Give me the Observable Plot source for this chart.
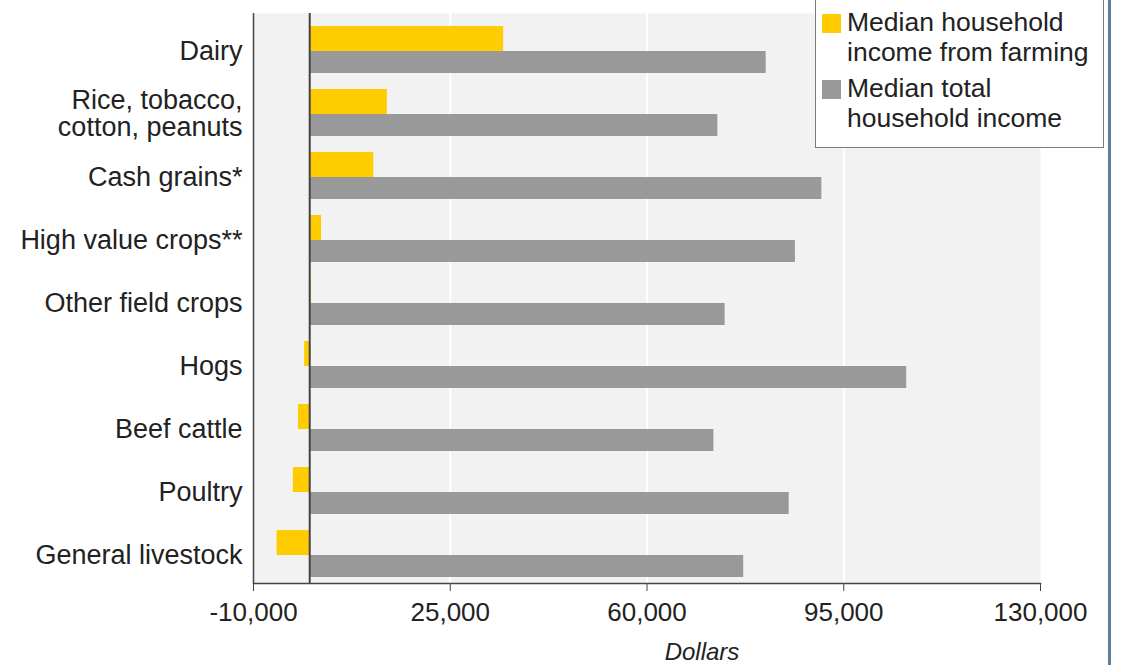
<!DOCTYPE html>
<html>
<head>
<meta charset="utf-8">
<script src="https://cdn.jsdelivr.net/npm/d3@7"></script>
<script src="https://cdn.jsdelivr.net/npm/@observablehq/plot@0.6"></script>
<style>
  html, body { margin: 0; padding: 0; background: #fff; }
  #wrap { position: relative; width: 1124px; height: 665px; overflow: hidden; font-family: "Liberation Sans", Arial, sans-serif; color: #222; }
  #legend { position: absolute; left: 815px; top: -4px; width: 289px; height: 152px; border: 1.5px solid #7a7a7a; background: #fff; box-sizing: border-box; }
  .item { position: absolute; left: 31px; font-size: 26.5px; line-height: 30px; color: #222; white-space: nowrap; }
  .sw { position: absolute; left: 6px; width: 19px; height: 19px; }
  #edge { position: absolute; left: 1108px; top: 0; width: 3px; height: 665px; background: #5e7f9c; }
</style>
</head>
<body>
<div id="wrap"></div>
<script>
const categories = [
  "Dairy",
  "Rice, tobacco,\ncotton, peanuts",
  "Cash grains*",
  "High value crops**",
  "Other field crops",
  "Hogs",
  "Beef cattle",
  "Poultry",
  "General livestock"
];
const farmIncome  = [34500, 13800, 11400, 2100, 300, -900, -2000, -2900, -5800];
const totalIncome = [81200, 72600, 91100, 86400, 73900, 106200, 71900, 85300, 77200];
const seriesNames = ["Median household\nincome from farming", "Median total\nhousehold income"];
const seriesColors = ["#ffcc00", "#999999"];
const xTicks = [-10000, 25000, 60000, 95000, 130000];
const xLabel = "Dollars";

const rows = categories.map((c, i) => ({category: c, farm: farmIncome[i], total: totalIncome[i]}));
const fmt = d => d.toLocaleString("en-US");

const chart = Plot.plot({
  width: 1124,
  height: 665,
  marginLeft: 253,
  marginRight: 84,
  marginTop: 13,
  marginBottom: 82,
  style: {fontFamily: "Liberation Sans, Arial, sans-serif", fontSize: "27px", color: "#222", background: "transparent"},
  x: {domain: [xTicks[0], xTicks[xTicks.length - 1]]},
  y: {domain: categories, padding: 0},
  marks: [
    Plot.frame({fill: "#f2f2f2", stroke: null}),
    Plot.ruleX(xTicks.slice(1, -1), {stroke: "#ffffff", strokeWidth: 2}),
    Plot.barX(rows, {x: "farm", y: "category", fill: seriesColors[0], insetTop: 11, insetBottom: 27}),
    Plot.barX(rows, {x: "total", y: "category", fill: seriesColors[1], insetTop: 36, insetBottom: 5}),
    Plot.ruleX([0], {stroke: "#444", strokeWidth: 2}),
    Plot.ruleX([xTicks[0]], {stroke: "#444", strokeWidth: 1.5}),
    Plot.frame({anchor: "bottom", stroke: "#444", strokeWidth: 1.5}),
    Plot.axisX({ticks: xTicks, tickFormat: fmt, tickSize: 8, tickPadding: 11, stroke: "#444", label: null, fontSize: 26}),
    Plot.axisY({tickSize: 0, tickPadding: 11, label: null, dy: 4, fontSize: 27, lineHeight: 1}),
    Plot.text([xLabel], {frameAnchor: "bottom", dy: 76, dx: 55, fontStyle: "italic", fontSize: 24, fill: "#222"})
  ]
});

const wrap = document.getElementById("wrap");
wrap.appendChild(chart);
chart.style.position = "absolute";
chart.style.left = "0px";
chart.style.top = "0px";

const legend = document.createElement("div");
legend.id = "legend";
seriesNames.forEach((name, i) => {
  const sw = document.createElement("div");
  sw.className = "sw";
  sw.style.top = (17 + i * 66) + "px";
  sw.style.background = seriesColors[i];
  legend.appendChild(sw);
  const t = document.createElement("div");
  t.className = "item";
  t.style.top = (10 + i * 66) + "px";
  t.innerHTML = name.replace("\n", "<br>");
  legend.appendChild(t);
});
wrap.appendChild(legend);
const edge = document.createElement("div");
edge.id = "edge";
wrap.appendChild(edge);
</script>
</body>
</html>
